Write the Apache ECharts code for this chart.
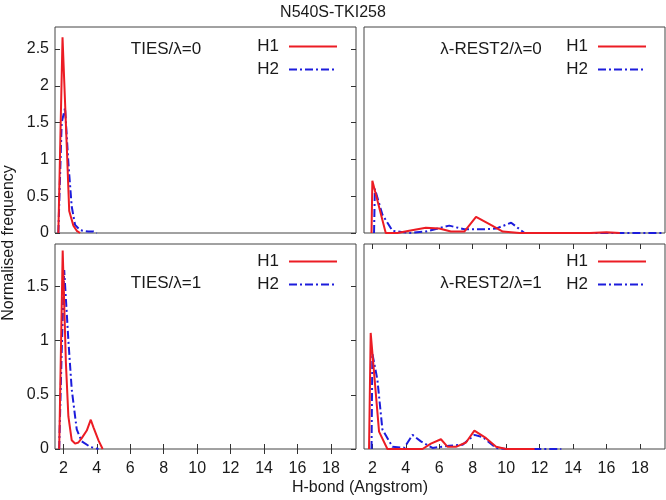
<!DOCTYPE html>
<html><head><meta charset="utf-8">
<script src="https://cdn.jsdelivr.net/npm/echarts@6/dist/echarts.min.js"></script>
<style>html,body{margin:0;padding:0;background:#fff}#c{width:666px;height:500px}</style>
</head><body><div id="c"></div>
<script>
const chartTitle = 'N540S-TKI258';
const xAxisName = 'H-bond (Angstrom)';
const yAxisName = 'Normalised frequency';
const panelLabels = ['TIES/λ=0', 'λ-REST2/λ=0', 'TIES/λ=1', 'λ-REST2/λ=1'];
const seriesNames = ['H1', 'H2'];
const xTicks = [2, 4, 6, 8, 10, 12, 14, 16, 18];
const yTicksTop = [0, 0.5, 1, 1.5, 2, 2.5];
const yTicksBottom = [0, 0.5, 1, 1.5];
const xMin = 1.5, xMax = 19.5;
const yMaxTop = 2.8, yMaxBottom = 1.89;

// [distance, frequency]
const tiesL0H1 = [[1.7,0],[1.95,2.66],[2.2,1.2],[2.35,0.3],[2.6,0.1],[2.8,0.03],[3.0,0]];
const tiesL0H2 = [[1.7,0],[1.9,1.5],[2.0,1.6],[2.1,1.7],[2.3,0.95],[2.5,0.36],[2.7,0.11],[3.0,0.04],[3.2,0.03],[3.5,0.02],[3.8,0.02],[4.0,0]];
const restL0H1 = [[1.95,0],[2.0,0.71],[2.8,0],[3.5,0],[4.2,0.03],[5.2,0.07],[6.0,0.06],[6.7,0.02],[7.5,0.02],[8.2,0.22],[9.0,0.12],[9.8,0.02],[10.8,0],[12,0],[13,0],[14,0],[15,0],[16,0.01],[16.8,0]];
const restL0H2 = [[2.1,0],[2.15,0.6],[2.6,0.25],[3.2,0.03],[4.2,0],[5.2,0.02],[6.6,0.1],[7.5,0.05],[8.5,0.05],[9.4,0.06],[10.3,0.14],[11.1,0],[12,0],[14,0],[16,0],[18,0],[19.4,0]];
const tiesL1H1 = [[1.75,0],[1.96,1.83],[2.15,0.8],[2.3,0.3],[2.5,0.08],[2.7,0.05],[2.9,0.06],[3.1,0.1],[3.4,0.17],[3.64,0.27],[3.8,0.2],[4.1,0.08],[4.35,0]];
const tiesL1H2 = [[1.75,0],[1.9,0.9],[2.05,1.65],[2.3,1.0],[2.5,0.55],[2.8,0.18],[3.1,0.07],[3.6,0.02],[4.1,0]];
const restL1H1 = [[1.8,0],[1.9,1.07],[2.4,0.16],[2.9,0],[5.0,0],[5.5,0.05],[6.1,0.09],[6.5,0.02],[7.0,0.02],[7.6,0.06],[8.1,0.17],[8.8,0.1],[9.4,0.02],[10.0,0],[11.7,0]];
const restL1H2 = [[1.95,0],[2.0,0.88],[2.3,0.64],[2.6,0.18],[3.2,0.02],[3.9,0.01],[4.4,0.13],[4.9,0.07],[5.6,0.01],[6.6,0.03],[7.4,0.04],[8.1,0.13],[8.6,0.11],[9.4,0.01],[10,0],[13.3,0]];

const panelData = [[tiesL0H1, tiesL0H2], [restL0H1, restL0H2], [tiesL1H1, tiesL1H2], [restL1H1, restL1H2]];

const FONT = '"Liberation Sans", Arial, sans-serif';
const TXT = '#1a1a1a';
const RED = '#ec1c24';
const BLUE = '#1c1cdc';

const grids = [
  {left: 55, top: 27, width: 301, height: 206},
  {left: 364, top: 27, width: 301, height: 206},
  {left: 55, top: 244, width: 301, height: 205},
  {left: 364, top: 244, width: 301, height: 205}
].map(g => Object.assign({show: true, borderColor: '#444', borderWidth: 1, backgroundColor: 'transparent'}, g));

const tickStyle = {lineStyle: {color: '#333', width: 1}};
function xAx(i, showTicks, showLabels, pos) {
  return {
    type: 'value', gridIndex: i, min: xMin, max: xMax, position: pos || 'bottom',
    axisLine: {show: false}, splitLine: {show: false},
    axisTick: Object.assign({show: showTicks, inside: true, length: 5, customValues: xTicks}, tickStyle),
    axisLabel: {show: showLabels, customValues: xTicks, margin: 12, fontSize: 16, color: TXT, fontFamily: FONT}
  };
}
function yAx(i, max, ticks, showTicks, showLabels, pos) {
  return {
    type: 'value', gridIndex: i, min: 0, max: max, position: pos || 'left',
    axisLine: {show: false}, splitLine: {show: false},
    axisTick: Object.assign({show: showTicks, inside: true, length: 5, customValues: ticks}, tickStyle),
    axisLabel: {show: showLabels, customValues: ticks, margin: 6, fontSize: 16, color: TXT, fontFamily: FONT}
  };
}

const xAxes = [
  xAx(0, false, false), xAx(1, false, false), xAx(2, true, true), xAx(3, true, true),
  xAx(2, true, false, 'top'), xAx(3, true, false, 'top')
];
const yAxes = [
  yAx(0, yMaxTop, yTicksTop, true, true), yAx(1, yMaxTop, yTicksTop, false, false),
  yAx(2, yMaxBottom, yTicksBottom, true, true), yAx(3, yMaxBottom, yTicksBottom, false, false),
  yAx(0, yMaxTop, yTicksTop, true, false, 'right'), yAx(2, yMaxBottom, yTicksBottom, true, false, 'right')
];

const series = [];
panelData.forEach((pair, i) => {
  pair.forEach((data, k) => {
    series.push({
      type: 'line', name: seriesNames[k], xAxisIndex: i, yAxisIndex: i, data: data,
      symbol: 'none', showSymbol: false, animation: false, z: k === 0 ? 3 : 2,
      lineStyle: k === 0 ? {color: RED, width: 2} : {color: BLUE, width: 2, type: [8, 3, 2, 3]},
      itemStyle: {color: k === 0 ? RED : BLUE}
    });
  });
});

const legendPos = [{right: 328, top: 38}, {right: 19, top: 38}, {right: 328, top: 253}, {right: 19, top: 253}];
const legends = legendPos.map(p => ({
  data: seriesNames, orient: 'vertical', align: 'right', right: p.right, top: p.top,
  itemWidth: 48, itemHeight: 14, itemGap: 6, selectedMode: false, padding: 0,
  itemStyle: {opacity: 0},
  textStyle: {fontSize: 17, color: TXT, fontFamily: FONT, padding: [0, 5, 0, 0]}
}));

const labelPos = [[166, 49], [491, 49], [166, 283], [491, 283]];
const graphics = panelLabels.map((t, i) => ({
  type: 'text', x: labelPos[i][0], y: labelPos[i][1],
  style: {text: t, fill: TXT, font: '17px ' + FONT, textAlign: 'center', textVerticalAlign: 'middle'}
}));
graphics.push({
  type: 'text', x: 360, y: 488,
  style: {text: xAxisName, fill: TXT, font: '16px ' + FONT, textAlign: 'center', textVerticalAlign: 'middle'}
});
graphics.push({
  type: 'text', x: 9, y: 243, rotation: Math.PI / 2,
  style: {text: yAxisName, fill: TXT, font: '16px ' + FONT, textAlign: 'center', textVerticalAlign: 'middle'}
});

const chart = echarts.init(document.getElementById('c'), null, {renderer: 'canvas'});
chart.setOption({
  backgroundColor: '#fff',
  animation: false,
  title: {text: chartTitle, left: 'center', top: 0, textStyle: {fontSize: 16, fontWeight: 'normal', color: TXT, fontFamily: FONT}},
  grid: grids,
  xAxis: xAxes,
  yAxis: yAxes,
  legend: legends,
  series: series,
  graphic: graphics
});
</script>
</body></html>
